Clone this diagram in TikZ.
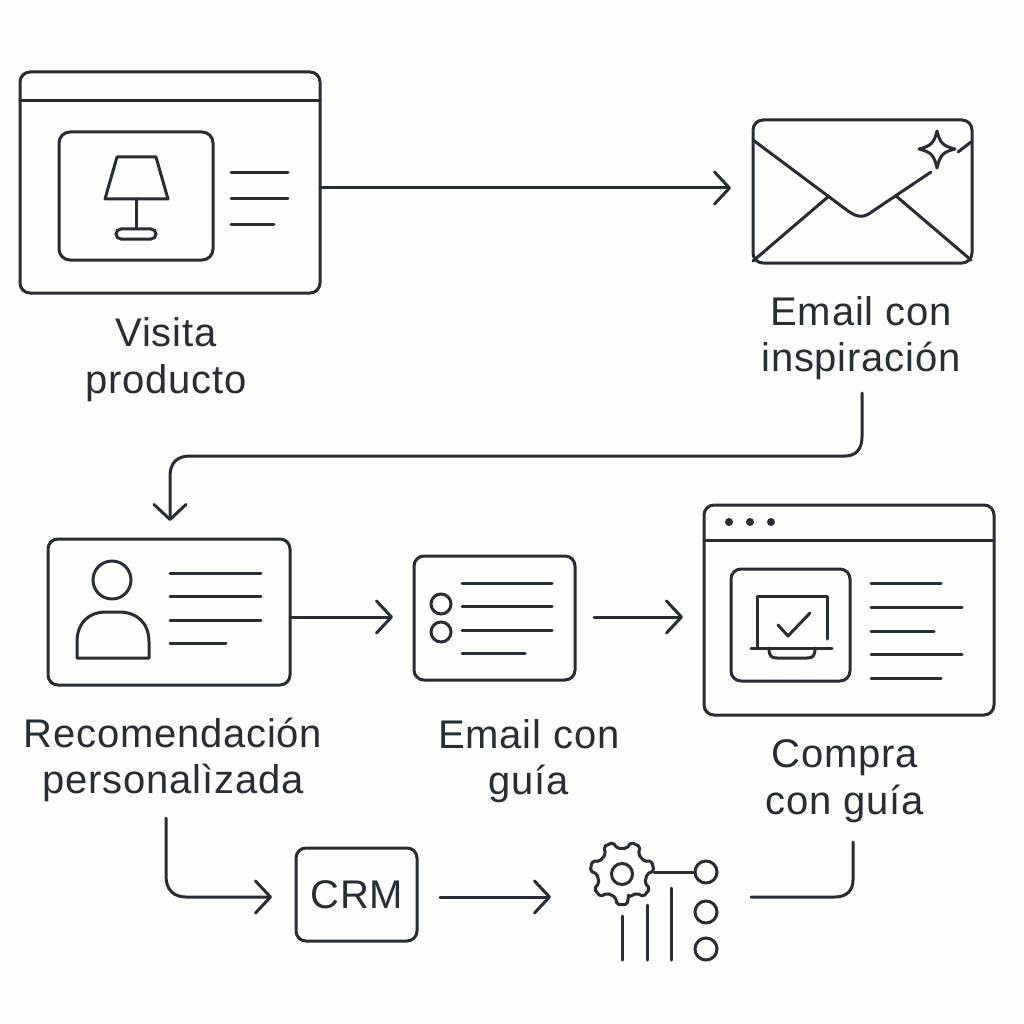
\documentclass[tikz,border=0pt]{standalone}
\usepackage{fontspec}
\setmainfont{Liberation Sans}[LetterSpace=2]
\usetikzlibrary{arrows.meta}
\definecolor{ink}{HTML}{262D35}
\definecolor{paper}{HTML}{FDFDFC}
\tikzset{
  ln/.style={draw=ink,line width=3pt,line cap=round,line join=round},
  box/.style={draw=ink,line width=3pt,rounded corners=#1,inner sep=0pt,outer sep=0pt,anchor=north west},
  box/.default=10pt,
  arr/.style={ln,-{Straight Barb[length=15pt,width=32pt,line width=3pt,round]}},
  lab/.style={font=\fontsize{40}{46.5}\selectfont,text=ink,align=center,inner sep=0pt},
  dot/.style={circle,fill=ink,minimum size=8pt,inner sep=0pt},
  ring/.style={circle,draw=ink,line width=3pt,inner sep=0pt,outer sep=0pt}
}
\newcommand{\bx}[6][10pt]{\node[box=#1,minimum width=#4pt,minimum height=#5pt] (#6) at (#2,#3) {};}
\begin{document}
\begin{tikzpicture}[x=1pt,y=-1pt]
\fill[paper] (0,0) rectangle (1024,1024);
\useasboundingbox (0,0) rectangle (1024,1024);
% --- Visita producto
\bx{20}{72}{300}{221}{win1}
\draw[ln] (20,101) -- (320,101);
\bx[11pt]{59}{132}{154}{128}{lampbox}
\draw[ln] (117,157) -- (156,157) -- (168,199) -- (105,199) -- cycle;
\draw[ln] (136,199) -- (136,228);
\node[box=5pt,minimum width=40pt,minimum height=10pt] (lampbase) at (116,229) {};
\draw[ln] (231,173) -- (288,173);
\draw[ln] (231,199) -- (288,199);
\draw[ln] (231,225) -- (274,225);
\node[lab] (t1) at (166,359.5) {Visita\\producto};
% --- Email
\bx{753}{120}{219}{143}{mail}
\draw[ln] (753,140) -- (848,211) .. controls (858,218) and (864,218) .. (873,211) -- (931,172);
\draw[ln] (958,152) -- (971,142);
\draw[ln] (753,261) -- (829,196);
\draw[ln] (896,196) -- (971,260);
\draw[ln] (937,131) .. controls (940,143) and (943,146) .. (955,149) .. controls (943,152) and (940,155) .. (937,168) .. controls (934,155) and (931,152) .. (919,149) .. controls (931,146) and (934,143) .. (937,131) -- cycle;
\node[lab] (t2) at (861,338) {Email con\\inspiración};
% --- Recomendacion
\bx{48}{539}{242}{146}{card}
\node[ring,minimum size=38pt] (head) at (112,580) {};
\draw[ln] (77,658) -- (77,642) .. controls (77,622) and (90,612) .. (105,612) -- (119,612) .. controls (136,612) and (149,622) .. (149,642) -- (149,658) -- cycle;
\draw[ln] (170,573) -- (261,573);
\draw[ln] (170,596) -- (261,596);
\draw[ln] (170,620) -- (261,620);
\draw[ln] (170,643) -- (226,643);
\node[lab] (t3) at (173,760) {Recomendación\\personalìzada};
% --- Email con guia
\bx{414}{556}{161}{124}{guide}
\node[ring,minimum size=20pt] (g1) at (441,604) {};
\node[ring,minimum size=20pt] (g2) at (441,632) {};
\draw[ln] (462,583) -- (552,583);
\draw[ln] (462,606) -- (552,606);
\draw[ln] (462,630) -- (552,630);
\draw[ln] (462,653) -- (525,653);
\node[lab] (t4) at (529,761) {Email con\\guía};
% --- Compra
\bx{704}{505}{290}{210}{win2}
\draw[ln] (704,540) -- (994,540);
\node[dot] (d1) at (729,522) {};
\node[dot] (d2) at (750,522) {};
\node[dot] (d3) at (771,522) {};
\bx[10pt]{731}{569}{119}{112}{lapbox}
\draw[ln] (757,647) -- (757,596) -- (827,596) -- (827,639);
\draw[ln] (751,648) -- (832,648);
\draw[ln] (769,648) .. controls (769,656) and (771,658) .. (777,658) -- (807,658) .. controls (813,658) and (815,656) .. (815,648);
\draw[ln] (778,625) -- (788,636) -- (810,613);
\draw[ln] (871,583) -- (941,583);
\draw[ln] (871,607) -- (962,607);
\draw[ln] (871,631) -- (934,631);
\draw[ln] (871,654) -- (962,654);
\draw[ln] (871,678) -- (941,678);
\node[lab] (t5) at (845,781) {Compra\\con guía};
% --- CRM
\bx{296}{848}{121}{93}{crm}
\node[lab] (crmt) at (357,895) {CRM};
% --- Gear
\node[ring,minimum size=21pt] (hub) at (622,874) {};
\coordinate (gc) at (622,873);
\draw[ln,rounded corners=2pt] ([shift={(75:25)}]gc)
  \foreach \a in {90,141.43,192.86,244.29,295.71,347.14,398.57} {
    -- ([shift={({\a-15}:25)}]gc) -- ([shift={({\a-9}:32)}]gc) -- ([shift={({\a+9}:32)}]gc) -- ([shift={({\a+15}:25)}]gc)
  } -- cycle;
\node[ring,minimum size=22pt] (o1) at (706,872) {};
\node[ring,minimum size=22pt] (o2) at (706,912) {};
\node[ring,minimum size=22pt] (o3) at (706,949) {};
\draw[ln] (654,872) -- (o1.west);
\draw[ln] (622,916) -- (622,960);
\draw[ln] (647,905) -- (647,960);
\draw[ln] (671,888) -- (671,960);
% --- connectors
\coordinate (a1e) at (731,188);
\draw[arr] (win1.east |- a1e) -- (a1e);
\coordinate (a2s) at (862,393);
\coordinate (a2e) at (170,521);
\draw[arr] (a2s) -- (862,437) .. controls (862,450) and (855,456) .. (845,456) -- (190,456) .. controls (177,456) and (170,463) .. (170,476) -- (a2e);
\coordinate (a3e) at (393,617);
\draw[arr] (card.east |- a3e) -- (a3e);
\coordinate (a4s) at (594,617);
\coordinate (a4e) at (683,617);
\draw[arr] (a4s) -- (a4e);
\coordinate (a5s) at (166,818);
\coordinate (a5e) at (272,897);
\draw[arr] (a5s) -- (166,876) .. controls (166,890) and (174,897) .. (186,897) -- (a5e);
\coordinate (a6s) at (440,897);
\coordinate (a6e) at (551,897);
\draw[arr] (a6s) -- (a6e);
\coordinate (a7s) at (751,897);
\coordinate (a7e) at (853,842);
\draw[ln] (a7s) -- (835,897) .. controls (847,897) and (853,890) .. (853,880) -- (a7e);
\end{tikzpicture}
\end{document}
